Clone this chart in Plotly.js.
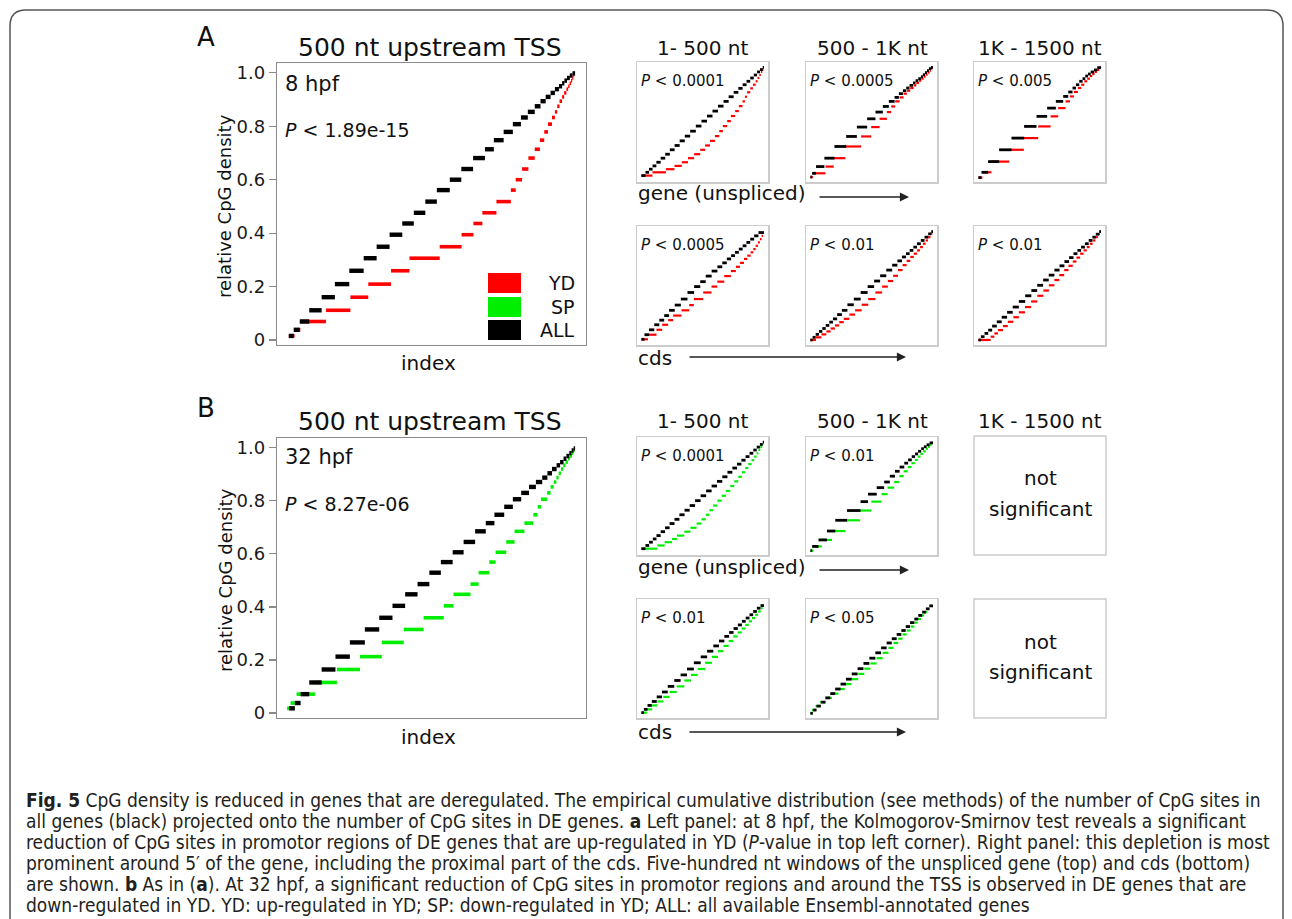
<!DOCTYPE html>
<html><head><meta charset="utf-8">
<script src="https://cdn.plot.ly/plotly-3.0.1.min.js"></script>
<style>html,body{margin:0;padding:0;background:#fff}#chart{width:1292px;height:919px}</style>
</head><body><div id="chart"></div>
<script>
// ---------------- data ----------------
// Each panel: discrete CpG-density levels, and index breakpoints of each level for ALL genes and for DE genes.
const yTickVals = [0, 0.2, 0.4, 0.6, 0.8, 1.0];
const yTickText = ['0', '0.2', '0.4', '0.6', '0.8', '1.0'];
const seriesNames = ['YD', 'SP', 'ALL'];
const colTitles = ['1- 500 nt', '500 - 1K nt', '1K - 1500 nt'];

// A: 500 nt upstream TSS, 8 hpf
const A8_levels = [0.015,0.038,0.069,0.111,0.160,0.209,0.259,0.306,0.349,0.394,0.436,0.476,0.518,0.561,0.600,0.640,0.681,0.714,0.748,0.779,0.808,0.833,0.854,0.875,0.894,0.910,0.925,0.939,0.950,0.961,0.971,0.981,0.990,0.998];
const A8_ALL = [0.006,0.023,0.044,0.077,0.12,0.166,0.216,0.266,0.311,0.356,0.40,0.44,0.48,0.52,0.565,0.605,0.646,0.687,0.718,0.752,0.784,0.812,0.836,0.86,0.88,0.898,0.915,0.93,0.944,0.955,0.963,0.972,0.982,0.991,1.0];
const A8_YD = [0.006,0.026,0.046,0.135,0.220,0.282,0.361,0.425,0.53,0.606,0.647,0.678,0.727,0.777,0.794,0.816,0.838,0.86,0.878,0.893,0.906,0.92,0.93,0.938,0.946,0.955,0.962,0.97,0.976,0.981,0.986,0.99,0.994,0.997,1.0];

// B: 500 nt upstream TSS, 32 hpf
const B32_levels = [0.0175,0.0375,0.071,0.115,0.164,0.2125,0.266,0.315,0.359,0.404,0.4475,0.486,0.529,0.569,0.606,0.645,0.685,0.716,0.7475,0.7775,0.806,0.83,0.8525,0.871,0.8875,0.904,0.92,0.934,0.946,0.959,0.969,0.98,0.99,0.9975];
const B32_ALL = [0.007,0.027,0.047,0.077,0.12,0.168,0.218,0.27,0.32,0.366,0.41,0.453,0.494,0.534,0.575,0.613,0.653,0.69,0.72,0.754,0.784,0.813,0.84,0.864,0.886,0.904,0.92,0.936,0.948,0.96,0.97,0.98,0.988,0.995,1.0];
const B32_SP = [0.0,0.012,0.033,0.097,0.173,0.253,0.329,0.405,0.474,0.544,0.578,0.637,0.665,0.702,0.724,0.761,0.79,0.824,0.855,0.87,0.882,0.903,0.915,0.926,0.935,0.943,0.951,0.959,0.967,0.975,0.982,0.989,0.994,0.998,1.0];

// A, gene (unspliced) windows
const AG1_levels = [0.018,0.048,0.076,0.106,0.139,0.176,0.212,0.252,0.291,0.333,0.376,0.421,0.467,0.512,0.558,0.603,0.648,0.691,0.733,0.773,0.809,0.842,0.873,0.903,0.930,0.958,0.979,1.0];
const AG1_ALL = [0,0.033,0.062,0.091,0.122,0.157,0.194,0.232,0.271,0.312,0.354,0.398,0.444,0.49,0.535,0.58,0.625,0.67,0.712,0.753,0.791,0.826,0.858,0.888,0.917,0.944,0.968,0.99,1.0];
const AG1_YD = [0,0.09,0.20,0.27,0.33,0.38,0.43,0.48,0.52,0.56,0.60,0.635,0.665,0.70,0.73,0.765,0.795,0.825,0.845,0.862,0.888,0.91,0.932,0.948,0.962,0.975,0.986,0.996,1.0];

const AG2_levels = [0.005,0.039,0.1,0.176,0.282,0.373,0.458,0.533,0.594,0.645,0.691,0.727,0.761,0.788,0.812,0.836,0.858,0.879,0.897,0.915,0.933,0.952,0.97,0.988,1.0];
const AG2_ALL = [0,0.014,0.046,0.114,0.196,0.292,0.379,0.463,0.531,0.591,0.640,0.687,0.722,0.755,0.782,0.809,0.837,0.858,0.880,0.902,0.918,0.935,0.951,0.967,0.984,1.0];
const AG2_YD = [0,0.02,0.123,0.19,0.286,0.414,0.496,0.564,0.624,0.659,0.692,0.728,0.760,0.787,0.815,0.842,0.864,0.886,0.905,0.924,0.940,0.956,0.973,0.984,0.995,1.0];

const AG3_levels = [0.0,0.048,0.145,0.252,0.358,0.464,0.555,0.63,0.691,0.736,0.776,0.812,0.842,0.873,0.897,0.921,0.939,0.958,0.976,0.997];
const AG3_ALL = [0,0.025,0.079,0.169,0.27,0.373,0.474,0.561,0.632,0.692,0.733,0.768,0.796,0.823,0.85,0.872,0.894,0.916,0.943,0.97,1.0];
const AG3_YD = [0,0.033,0.106,0.251,0.371,0.488,0.589,0.651,0.711,0.747,0.779,0.812,0.839,0.864,0.888,0.910,0.929,0.948,0.967,0.986,1.0];

// A, cds windows
const AC1_levels = [0.012,0.054,0.099,0.145,0.187,0.229,0.277,0.325,0.380,0.440,0.494,0.539,0.590,0.636,0.675,0.711,0.747,0.777,0.807,0.837,0.867,0.898,0.928,0.958,0.988];
const AC1_ALL = [0,0.025,0.062,0.105,0.146,0.186,0.226,0.272,0.322,0.376,0.43,0.48,0.525,0.573,0.62,0.66,0.697,0.732,0.764,0.795,0.826,0.857,0.888,0.92,0.955,1.0];
const AC1_YD = [0,0.054,0.123,0.169,0.218,0.259,0.327,0.39,0.428,0.504,0.572,0.619,0.676,0.73,0.771,0.804,0.837,0.864,0.891,0.913,0.932,0.951,0.967,0.981,0.992,1.0];

const AC2_levels = [0.006,0.03,0.057,0.084,0.111,0.139,0.169,0.199,0.238,0.277,0.328,0.380,0.440,0.494,0.545,0.593,0.645,0.69,0.729,0.765,0.795,0.825,0.855,0.886,0.916,0.946,0.976,0.997];
const AC2_ALL = [0,0.018,0.043,0.07,0.097,0.125,0.154,0.184,0.218,0.257,0.302,0.354,0.41,0.467,0.52,0.569,0.619,0.667,0.71,0.747,0.78,0.81,0.84,0.87,0.901,0.931,0.961,0.986,1.0];
const AC2_YD = [0,0.045,0.09,0.13,0.165,0.2,0.235,0.272,0.318,0.365,0.418,0.472,0.53,0.585,0.632,0.675,0.715,0.752,0.785,0.815,0.843,0.87,0.895,0.918,0.94,0.96,0.98,0.995,1.0];

const AC3_levels = [0.006,0.036,0.066,0.096,0.133,0.172,0.214,0.259,0.307,0.358,0.41,0.458,0.506,0.554,0.599,0.645,0.684,0.723,0.759,0.795,0.825,0.855,0.886,0.916,0.946,0.973,0.997];
const AC3_ALL = [0,0.02,0.05,0.08,0.112,0.15,0.19,0.234,0.28,0.33,0.382,0.432,0.48,0.528,0.574,0.62,0.662,0.702,0.74,0.776,0.808,0.838,0.869,0.9,0.93,0.958,0.985,1.0];
const AC3_YD = [0,0.1,0.13,0.16,0.2,0.24,0.285,0.33,0.38,0.43,0.48,0.53,0.575,0.62,0.66,0.7,0.735,0.77,0.8,0.83,0.858,0.884,0.908,0.932,0.955,0.975,0.992,1.0];

// B, gene (unspliced) windows
const BG1_levels = [0.018,0.048,0.078,0.108,0.139,0.175,0.211,0.250,0.289,0.331,0.373,0.416,0.461,0.506,0.551,0.596,0.639,0.681,0.723,0.762,0.798,0.834,0.867,0.898,0.928,0.955,0.979,1.0];
const BG1_ALL = [0,0.033,0.063,0.093,0.123,0.157,0.193,0.23,0.27,0.31,0.352,0.394,0.438,0.483,0.528,0.573,0.617,0.66,0.702,0.742,0.78,0.816,0.85,0.882,0.913,0.941,0.967,0.99,1.0];
const BG1_SP = [0,0.13,0.19,0.25,0.29,0.35,0.40,0.45,0.49,0.525,0.555,0.585,0.62,0.655,0.69,0.725,0.758,0.79,0.82,0.847,0.872,0.898,0.92,0.94,0.955,0.97,0.985,0.995,1.0];

const BG2_levels = [0.0,0.039,0.099,0.181,0.280,0.370,0.452,0.521,0.581,0.633,0.687,0.732,0.771,0.807,0.837,0.867,0.892,0.916,0.940,0.958,0.976,0.994];
const BG2_ALL = [0,0.014,0.066,0.135,0.203,0.299,0.409,0.47,0.541,0.602,0.648,0.69,0.728,0.766,0.797,0.827,0.854,0.879,0.904,0.926,0.948,0.973,1.0];
const BG2_SP = [0,0.025,0.093,0.176,0.286,0.404,0.497,0.58,0.629,0.684,0.725,0.761,0.794,0.824,0.852,0.876,0.898,0.92,0.942,0.959,0.975,0.989,1.0];

// B, cds windows
const BC1_levels = [0.009,0.039,0.075,0.111,0.153,0.198,0.249,0.303,0.354,0.408,0.465,0.519,0.571,0.619,0.664,0.706,0.742,0.778,0.811,0.844,0.874,0.904,0.934,0.964,0.988];
const BC1_ALL = [0,0.02,0.05,0.085,0.125,0.168,0.215,0.268,0.32,0.372,0.428,0.484,0.536,0.587,0.633,0.677,0.716,0.752,0.787,0.82,0.851,0.882,0.912,0.942,0.972,1.0];
const BC1_SP = [0,0.045,0.088,0.13,0.178,0.23,0.288,0.35,0.405,0.46,0.52,0.575,0.625,0.67,0.712,0.75,0.785,0.818,0.848,0.876,0.902,0.928,0.952,0.974,0.99,1.0];

const BC2_levels = [0.003,0.033,0.069,0.105,0.144,0.183,0.225,0.270,0.315,0.363,0.411,0.459,0.507,0.556,0.601,0.646,0.685,0.724,0.760,0.796,0.832,0.865,0.898,0.928,0.958,0.985];
const BC2_ALL = [0,0.02,0.05,0.085,0.122,0.162,0.202,0.246,0.29,0.337,0.385,0.433,0.481,0.53,0.577,0.622,0.664,0.704,0.742,0.778,0.813,0.848,0.88,0.912,0.942,0.97,1.0];
const BC2_SP = [0,0.012,0.042,0.08,0.125,0.175,0.228,0.28,0.335,0.39,0.44,0.49,0.54,0.59,0.637,0.678,0.716,0.752,0.786,0.818,0.848,0.876,0.903,0.928,0.952,0.976,1.0];

const pLabelsSmall = {AG1:'0.0001', AG2:'0.0005', AG3:'0.005', AC1:'0.0005', AC2:'0.01', AC3:'0.01', BG1:'0.0001', BG2:'0.01', BC1:'0.01', BC2:'0.05'};

// ---------------- layout / styling ----------------
const W = 1292, H = 919;
const px = x => x / W, py = y => 1 - y / H;
const FONT = 'DejaVu Sans, Liberation Sans, Arial, sans-serif';
const CAPFONT = 'Liberation Sans Narrow, DejaVu Sans Condensed, Roboto Condensed, Liberation Sans, Arial, sans-serif';
const RED = '#ff0000', GREEN = '#00ee00', BLACK = '#000000';

const panels = [
  {id:'A8',  lv:A8_levels,  all:A8_ALL,  de:A8_YD,  c:RED,   box:[277,586,63,345],   big:true},
  {id:'B32', lv:B32_levels, all:B32_ALL, de:B32_SP, c:GREEN, box:[277,586,438,718], big:true},
  {id:'AG1', lv:AG1_levels, all:AG1_ALL, de:AG1_YD, c:RED,   box:[637,768,62,182]},
  {id:'AG2', lv:AG2_levels, all:AG2_ALL, de:AG2_YD, c:RED,   box:[806,937,62,182]},
  {id:'AG3', lv:AG3_levels, all:AG3_ALL, de:AG3_YD, c:RED,   box:[974,1105,62,182]},
  {id:'AC1', lv:AC1_levels, all:AC1_ALL, de:AC1_YD, c:RED,   box:[637,768,226,345]},
  {id:'AC2', lv:AC2_levels, all:AC2_ALL, de:AC2_YD, c:RED,   box:[806,937,226,345]},
  {id:'AC3', lv:AC3_levels, all:AC3_ALL, de:AC3_YD, c:RED,   box:[974,1105,226,345]},
  {id:'BG1', lv:BG1_levels, all:BG1_ALL, de:BG1_SP, c:GREEN, box:[637,768,437,555]},
  {id:'BG2', lv:BG2_levels, all:BG2_ALL, de:BG2_SP, c:GREEN, box:[806,937,437,555]},
  {id:'BC1', lv:BC1_levels, all:BC1_ALL, de:BC1_SP, c:GREEN, box:[637,768,599,718]},
  {id:'BC2', lv:BC2_levels, all:BC2_ALL, de:BC2_SP, c:GREEN, box:[806,937,599,718]}
];

function steps(levels, breaks) {
  const x = [], y = [];
  for (let k = 0; k < levels.length; k++) {
    x.push(breaks[k], breaks[k + 1], null);
    y.push(levels[k], levels[k], null);
  }
  return {x, y};
}

const traces = [];
const layout = {
  width: W, height: H, margin: {l:0, r:0, t:0, b:0},
  paper_bgcolor: '#ffffff', plot_bgcolor: '#ffffff', showlegend: false,
  font: {family: FONT, color: '#1a1a1a'},
  annotations: [], shapes: []
};

panels.forEach((p, i) => {
  const n = i + 1, sfx = n === 1 ? '' : String(n);
  const [x0, x1, y0, y1] = p.box;
  const lineCol = p.big ? '#8a8a8a' : '#cccccc';
  layout['xaxis' + sfx] = {
    domain: [px(x0), px(x1)], anchor: 'y' + sfx,
    range: p.big ? [-0.035, 1.038] : [-0.036, 1.033],
    showline: true, mirror: true, linecolor: lineCol, linewidth: p.big ? 1.2 : 1.5,
    showgrid: false, zeroline: false, showticklabels: false, ticks: '', fixedrange: true
  };
  const ya = {
    domain: [py(y1), py(y0)], anchor: 'x' + sfx,
    range: p.big ? [-0.019, 1.037] : [-0.04, 1.048],
    showline: true, mirror: true, linecolor: lineCol, linewidth: p.big ? 1.2 : 1.5,
    showgrid: false, zeroline: false, fixedrange: true
  };
  if (p.big) {
    Object.assign(ya, {showticklabels: true, tickvals: yTickVals, ticktext: yTickText,
      ticks: 'outside', ticklen: 7, tickwidth: 1.2, tickcolor: '#8a8a8a',
      tickfont: {family: FONT, size: 18, color: '#1a1a1a'}});
  } else {
    Object.assign(ya, {showticklabels: false, ticks: ''});
  }
  layout['yaxis' + sfx] = ya;

  const d = steps(p.lv, p.de), a = steps(p.lv, p.all);
  traces.push({type:'scatter', mode:'lines', x:d.x, y:d.y, xaxis:'x'+sfx, yaxis:'y'+sfx,
    line:{color:p.c, width: p.big ? 3.6 : 2.2}, hoverinfo:'skip', connectgaps:false});
  traces.push({type:'scatter', mode:'lines', x:a.x, y:a.y, xaxis:'x'+sfx, yaxis:'y'+sfx,
    line:{color:BLACK, width: p.big ? 4.4 : 2.8}, hoverinfo:'skip', connectgaps:false});

  if (!p.big) {
    layout.annotations.push({xref:'paper', yref:'paper', x:px(x0 + 2), y:py(y0 + 19),
      xanchor:'left', yanchor:'middle', showarrow:false,
      text:'<i>P</i> &lt; ' + pLabelsSmall[p.id], font:{family:FONT, size:15, color:'#111'}});
  }
});

function ann(text, x, y, size, extra) {
  layout.annotations.push(Object.assign({xref:'paper', yref:'paper', x:px(x), y:py(y),
    xanchor:'center', yanchor:'middle', showarrow:false, text:text,
    font:{family:FONT, size:size, color:'#111'}}, extra || {}));
}

// panel letters
ann('A', 206, 37, 26);
ann('B', 206, 408, 26);
// large panel titles and texts
ann('500 nt upstream TSS', 430, 47, 25);
ann('500 nt upstream TSS', 430, 421, 25);
ann('8 hpf', 283, 84, 21, {xanchor:'left'});
ann('<i>P</i> &lt; 1.89e-15', 283, 130, 19, {xanchor:'left'});
ann('32 hpf', 283, 457, 21, {xanchor:'left'});
ann('<i>P</i> &lt; 8.27e-06', 283, 504, 19, {xanchor:'left'});
ann('index', 428, 363, 20);
ann('index', 428, 737, 20);
ann('relative CpG density', 225, 206, 18, {textangle:-90});
ann('relative CpG density', 225, 580, 18, {textangle:-90});

// legend (panel A)
const legendColors = [RED, GREEN, BLACK];
const legendRows = [283, 307, 330];
seriesNames.forEach((nm, k) => {
  layout.shapes.push({type:'rect', xref:'paper', yref:'paper',
    x0:px(488), x1:px(521), y0:py(legendRows[k] - 10), y1:py(legendRows[k] + 10),
    fillcolor:legendColors[k], line:{width:0}});
  ann(nm, 577, legendRows[k], 19, {xanchor:'right'});
});

// column titles
const colCenters = [703, 872, 1040];
colTitles.forEach((t, k) => { ann(t, colCenters[k], 48, 20); ann(t, colCenters[k], 421, 20); });

// row labels with arrows
ann('gene (unspliced)', 636, 193, 20, {xanchor:'left'});
ann('gene (unspliced)', 636, 567, 20, {xanchor:'left'});
ann('cds', 636, 358, 20, {xanchor:'left'});
ann('cds', 636, 732, 20, {xanchor:'left'});
function arrow(xTail, xHead, y) {
  layout.annotations.push({xref:'paper', yref:'paper', x:px(xHead), y:py(y), ax:xTail - xHead, ay:0,
    showarrow:true, arrowhead:2, arrowsize:1.3, arrowwidth:1.4, arrowcolor:'#222', text:''});
}
arrow(818, 909, 197);
arrow(688, 906, 357);
arrow(818, 909, 570);
arrow(688, 906, 732);

// "not significant" boxes
[[436, 555], [599, 718]].forEach(([t, b]) => {
  layout.shapes.push({type:'rect', xref:'paper', yref:'paper', x0:px(974), x1:px(1106), y0:py(b), y1:py(t),
    line:{color:'#cccccc', width:1.5}, fillcolor:'rgba(0,0,0,0)'});
  const mid = (t + b) / 2;
  ann('not', 1040, mid - 17, 20);
  ann('significant', 1040, mid + 13, 20);
});

// outer rounded frame
const r = 16, L = 10, R = 1283, T = 10;
layout.shapes.push({type:'path', xref:'paper', yref:'paper', layer:'below',
  path:`M ${px(L)},${py(H)} L ${px(L)},${py(T + r)} Q ${px(L)},${py(T)} ${px(L + r)},${py(T)} L ${px(R - r)},${py(T)} Q ${px(R)},${py(T)} ${px(R)},${py(T + r)} L ${px(R)},${py(H)}`,
  line:{color:'#555555', width:1.5}});

// caption
const captionLines = [
  '<b>Fig. 5</b> CpG density is reduced in genes that are deregulated. The empirical cumulative distribution (see methods) of the number of CpG sites in',
  'all genes (black) projected onto the number of CpG sites in DE genes. <b>a</b> Left panel: at 8 hpf, the Kolmogorov-Smirnov test reveals a significant',
  'reduction of CpG sites in promotor regions of DE genes that are up-regulated in YD (<i>P</i>-value in top left corner). Right panel: this depletion is most',
  'prominent around 5\u2032 of the gene, including the proximal part of the cds. Five-hundred nt windows of the unspliced gene (top) and cds (bottom)',
  'are shown. <b>b</b> As in (<b>a</b>). At 32 hpf, a significant reduction of CpG sites in promotor regions and around the TSS is observed in DE genes that are',
  'down-regulated in YD. YD: up-regulated in YD; SP: down-regulated in YD; ALL: all available Ensembl-annotated genes'
];
captionLines.forEach((t, k) => {
  ann(t, 24, 800 + 21 * k, 19, {xanchor:'left', font:{family:CAPFONT, size:19, color:'#231f20'}});
});

Plotly.newPlot('chart', traces, layout, {staticPlot:true, displayModeBar:false});
</script></body></html>
